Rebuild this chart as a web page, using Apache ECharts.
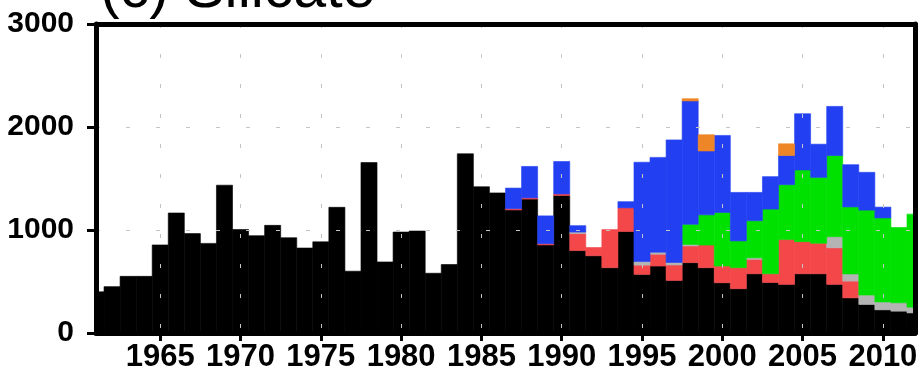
<!DOCTYPE html>
<html>
<head>
<meta charset="utf-8">
<style>
  html, body { margin: 0; padding: 0; background: #fff; }
  #main { width: 922px; height: 374px; }
</style>
<script src="https://cdn.jsdelivr.net/npm/echarts@6/dist/echarts.min.js"></script>
</head>
<body>
<div id="main"></div>
<script>
// years 1961 - 2012
const years = []
for (let y = 1961; y <= 2012; y++) years.push(String(y))

// stacked contributions (bottom to top)
const blackVals = [400, 450, 550, 550, 855, 1165, 965, 870, 1435, 1005,
  945, 1045, 925, 825, 885, 1220, 600, 1655, 690, 980,
  990, 580, 665, 1740, 1420, 1360, 1195, 1300, 855, 1335,
  800, 750, 634, 985, 569, 650, 510, 683, 634, 488,
  430, 575, 490, 472, 575, 575, 472, 341, 277, 225,
  212, 195]
const redVals = [0, 0, 0, 0, 0, 0, 0, 0, 0, 0,
  0, 0, 0, 0, 0, 0, 0, 0, 0, 0,
  0, 0, 0, 0, 0, 0, 12, 12, 12, 15,
  165, 80, 370, 230, 90, 115, 150, 162, 220, 162,
  204, 140, 85, 435, 312, 296, 355, 163, 0, 0,
  0, 0]
const greyVals = [0, 0, 0, 0, 0, 0, 0, 0, 0, 0,
  0, 0, 0, 0, 0, 0, 0, 0, 0, 0,
  0, 0, 0, 0, 0, 0, 0, 0, 0, 0,
  15, 0, 0, 0, 35, 20, 25, 15, 0, 0,
  0, 15, 0, 0, 0, 0, 108, 70, 91, 77,
  81, 56]
const greenVals = [0, 0, 0, 0, 0, 0, 0, 0, 0, 0,
  0, 0, 0, 0, 0, 0, 0, 0, 0, 0,
  0, 0, 0, 0, 0, 0, 0, 0, 0, 0,
  0, 0, 0, 0, 0, 0, 0, 195, 293, 520,
  260, 360, 628, 533, 696, 640, 788, 650, 825, 815,
  731, 903]
const blueVals = [0, 0, 0, 0, 0, 0, 0, 0, 0, 0,
  0, 0, 0, 0, 0, 0, 0, 0, 0, 0,
  0, 0, 0, 0, 0, 0, 200, 305, 270, 315,
  62, 0, 0, 60, 964, 920, 1190, 1198, 620, 748,
  471, 275, 315, 283, 546, 322, 477, 410, 367, 105,
  0, 0]
const orangeVals = [0, 0, 0, 0, 0, 0, 0, 0, 0, 0,
  0, 0, 0, 0, 0, 0, 0, 0, 0, 0,
  0, 0, 0, 0, 0, 0, 0, 0, 0, 0,
  0, 0, 0, 0, 0, 0, 0, 22, 158, 0,
  0, 0, 0, 114, 0, 0, 0, 0, 0, 0,
  0, 0]

const xTicks = ['1965', '1970', '1975', '1980', '1985', '1990', '1995', '2000', '2005', '2010']
const yTicks = [0, 1000, 2000, 3000]

const layers = [
  { name: 'black', vals: blackVals, color: '#000000' },
  { name: 'red', vals: redVals, color: '#f4474a' },
  { name: 'grey', vals: greyVals, color: '#b4b4b4' },
  { name: 'green', vals: greenVals, color: '#00e100' },
  { name: 'blue', vals: blueVals, color: '#2240f2' },
  { name: 'orange', vals: orangeVals, color: '#ee8526' }
]

let myChart = echarts.init(document.getElementById('main'), null, { renderer: 'canvas' })

// only every 5th year gets a tick / label / grid line
const onTick = (index, value) => xTicks.indexOf(String(value)) >= 0

// stacked bars as custom series, so the half bars at both ends get clipped to the frame
let base = years.map(() => 0)
const series = layers.map(layer => {
  const data = layer.vals.map((v, i) => [i, base[i], base[i] + v])
  base = base.map((b, i) => b + layer.vals[i])
  return {
    name: layer.name,
    type: 'custom',
    clip: true,
    encode: { x: 0, y: [1, 2] },
    data: data,
    renderItem: (params, api) => {
      const lo = api.value(1)
      const hi = api.value(2)
      if (hi <= lo) return
      const p0 = api.coord([api.value(0), lo])
      const p1 = api.coord([api.value(0), hi])
      const w = api.size([1, 0])[0]
      return {
        type: 'rect',
        shape: { x: p0[0] - w / 2, y: p1[1], width: w, height: p0[1] - p1[1] },
        style: { fill: layer.color, stroke: layer.color, lineWidth: 0.6 }
      }
    }
  }
})

const gridLine = { show: true, lineStyle: { color: '#c4c4c4', width: 1, type: [4, 26] } }

let option = {
  animation: false,
  backgroundColor: '#fff',
  title: {
    text: '(c) Silicate',
    left: 95,
    top: -44,
    textStyle: { fontFamily: 'Liberation Sans', fontSize: 59, fontWeight: 'normal', color: '#000' }
  },
  grid: { left: 96, right: 7, top: 24, bottom: 41 },
  xAxis: [
    {
      type: 'category',
      data: years,
      boundaryGap: false,
      position: 'bottom',
      z: 10,
      axisLine: { show: true, onZero: false, lineStyle: { color: '#000', width: 5 } },
      axisTick: { show: true, interval: onTick, length: 8, lineStyle: { color: '#000', width: 3 } },
      axisLabel: {
        interval: onTick,
        margin: 9,
        color: '#000',
        fontFamily: 'Liberation Sans',
        fontWeight: 'bold',
        fontSize: 31
      },
      splitLine: Object.assign({ interval: onTick }, gridLine)
    },
    {
      type: 'category',
      data: years,
      boundaryGap: false,
      position: 'top',
      z: 10,
      axisLine: { show: true, onZero: false, lineStyle: { color: '#000', width: 5 } },
      axisTick: { show: false },
      axisLabel: { show: false },
      splitLine: { show: false }
    }
  ],
  yAxis: [
    {
      type: 'value',
      min: 0,
      max: 3000,
      interval: 1000,
      position: 'left',
      z: 10,
      axisLine: { show: true, onZero: false, lineStyle: { color: '#000', width: 5 } },
      axisTick: { show: true, length: 9, lineStyle: { color: '#000', width: 3 } },
      axisLabel: {
        margin: 22,
        color: '#000',
        fontFamily: 'Liberation Sans',
        fontWeight: 'bold',
        fontSize: 30,
        formatter: v => (yTicks.indexOf(v) >= 0 ? String(v) : '')
      },
      splitLine: gridLine
    },
    {
      type: 'value',
      min: 0,
      max: 3000,
      position: 'right',
      z: 10,
      axisLine: { show: true, onZero: false, lineStyle: { color: '#000', width: 5 } },
      axisTick: { show: false },
      axisLabel: { show: false },
      splitLine: { show: false }
    }
  ],
  series: series
}

myChart.setOption(option)
</script>
</body>
</html>
